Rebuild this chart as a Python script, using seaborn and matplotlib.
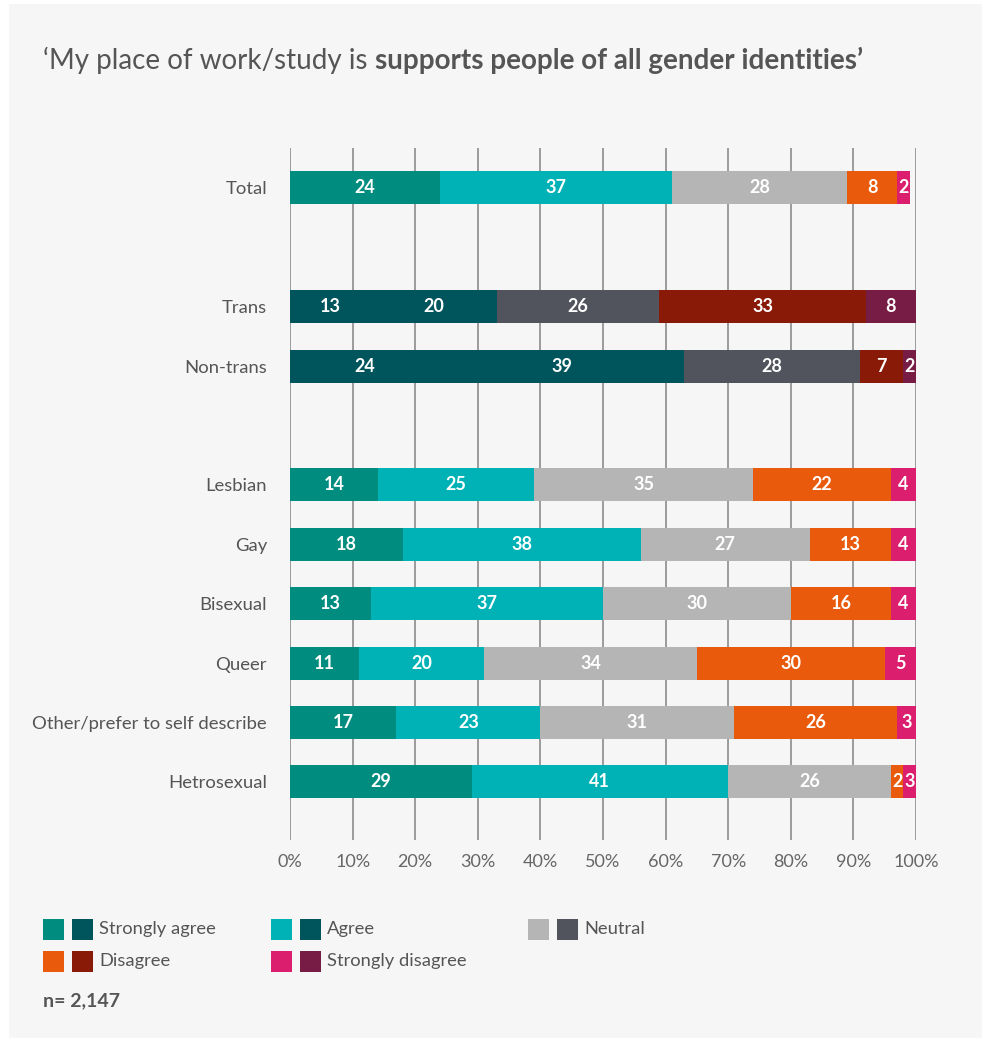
import matplotlib
matplotlib.use("Agg")
import matplotlib.pyplot as plt
from matplotlib.patches import Rectangle
import numpy as np
import pandas as pd
import seaborn as sns

# ---- data -------------------------------------------------------------
categories = ["Total", "Trans", "Non-trans", "Lesbian", "Gay", "Bisexual",
              "Queer", "Other/prefer to self describe", "Hetrosexual"]
row_slots = [0, 2, 3, 5, 6, 7, 8, 9, 10]
strongly_agree = [24, 13, 24, 14, 18, 13, 11, 17, 29]
agree = [37, 20, 39, 25, 38, 37, 20, 23, 41]
neutral = [28, 26, 28, 35, 27, 30, 34, 31, 26]
disagree = [8, 33, 7, 22, 13, 16, 30, 26, 2]
strongly_disagree = [2, 8, 2, 4, 4, 4, 5, 3, 3]
x_ticks = [0, 10, 20, 30, 40, 50, 60, 70, 80, 90, 100]
responses = ["Strongly agree", "Agree", "Neutral", "Disagree", "Strongly disagree"]

# ---- styling ----------------------------------------------------------
light_colors = ["#008C7E", "#00B2B5", "#B4B5B4", "#EA5A0C", "#DB1F6E"]
dark_colors = ["#00545C", "#00545C", "#51545C", "#891A08", "#761C45"]
dark_rows = {"Trans", "Non-trans"}
TEXT = "#555555"
PANEL = "#F6F6F6"

sns.set_style("white")
plt.rcParams["font.family"] = ["Lato", "DejaVu Sans"]

W, H = 982, 1045
fig = plt.figure(figsize=(W / 100, H / 100), dpi=100, facecolor="white")
fig.patches.append(Rectangle((9 / W, 1 - 1038 / H), 1 - 9 / W, (1038 - 4) / H,
                             transform=fig.transFigure, facecolor=PANEL,
                             edgecolor="none", zorder=-10))

ax = fig.add_axes([290 / W, 1 - 840 / H, (916 - 290) / W, (840 - 148) / H])
ax.set_facecolor("none")

series = [strongly_agree, agree, neutral, disagree, strongly_disagree]
df = pd.DataFrame({"category": categories, "pos": row_slots})
for k, vals in enumerate(series):
    df[responses[k]] = vals
ends = np.cumsum(np.array(series), axis=0)
for k in range(5):
    df[f"end_{k}"] = ends[k]

# stacked bars: draw cumulative layers from the outermost segment inwards
for k in reversed(range(5)):
    pal = {c: (dark_colors[k] if c in dark_rows else light_colors[k]) for c in categories}
    sns.barplot(data=df, x=f"end_{k}", y="pos", hue="category", palette=pal,
                orient="h", native_scale=True, dodge=False, width=0.556,
                errorbar=None, saturation=1, legend=False, linewidth=0, ax=ax)

# value labels centred in each visible segment
for i, row in df.iterrows():
    start = 0
    for k in range(5):
        end = min(row[f"end_{k}"], 100)
        ax.text((start + end) / 2, row["pos"], str(row[responses[k]]),
                ha="center", va="center", color="white", fontsize=13,
                fontweight="bold", zorder=5)
        start = end

ax.set_xlim(0, 100)
ax.set_ylim(10.98, -0.673)
ax.set_xticks(x_ticks)
ax.set_xticklabels([f"{v}%" for v in x_ticks])
ax.set_yticks(row_slots)
ax.set_yticklabels(categories)
ax.set_xlabel("")
ax.set_ylabel("")
ax.tick_params(axis="x", length=0, pad=10, labelsize=13, labelcolor="#666666")
ax.tick_params(axis="y", length=0, pad=16.5, labelsize=13.3, labelcolor=TEXT)
ax.xaxis.grid(True, color="#8c8c8c", linewidth=1.2)
ax.yaxis.grid(False)
ax.set_axisbelow(True)
for s in ax.spines.values():
    s.set_visible(False)

# ---- title: regular lead-in followed by bold phrase -------------------
renderer = fig.canvas.get_renderer()
t1 = fig.text(43 / W, 1 - 69 / H, "\u2018My place of work/study is ",
              fontsize=20, color=TEXT, va="baseline", ha="left")
bb = t1.get_window_extent(renderer)
fig.text(bb.x1 / W, 1 - 69 / H, "supports people of all gender identities\u2019",
         fontsize=20, color=TEXT, va="baseline", ha="left", fontweight="bold")

# ---- legend: light and dark swatch per response ----------------------
legend_slots = [(43, 929), (271, 929), (528, 929), (43, 961), (271, 961)]
sq = 21
for k, (lx, ly) in enumerate(legend_slots):
    for j, col in enumerate([light_colors[k], dark_colors[k]]):
        x0 = lx + j * 29
        fig.patches.append(Rectangle((x0 / W, 1 - (ly + sq / 2) / H), sq / W, sq / H,
                                     transform=fig.transFigure, facecolor=col,
                                     edgecolor="none"))
    fig.text((lx + 56) / W, 1 - ly / H, responses[k], fontsize=13.2, color=TEXT,
             va="center", ha="left")

fig.text(43 / W, 1 - 1001 / H, "n= 2,147", fontsize=14, color=TEXT,
         va="center", ha="left", fontweight="bold")

fig.savefig("out.png", dpi=100, facecolor="white")
